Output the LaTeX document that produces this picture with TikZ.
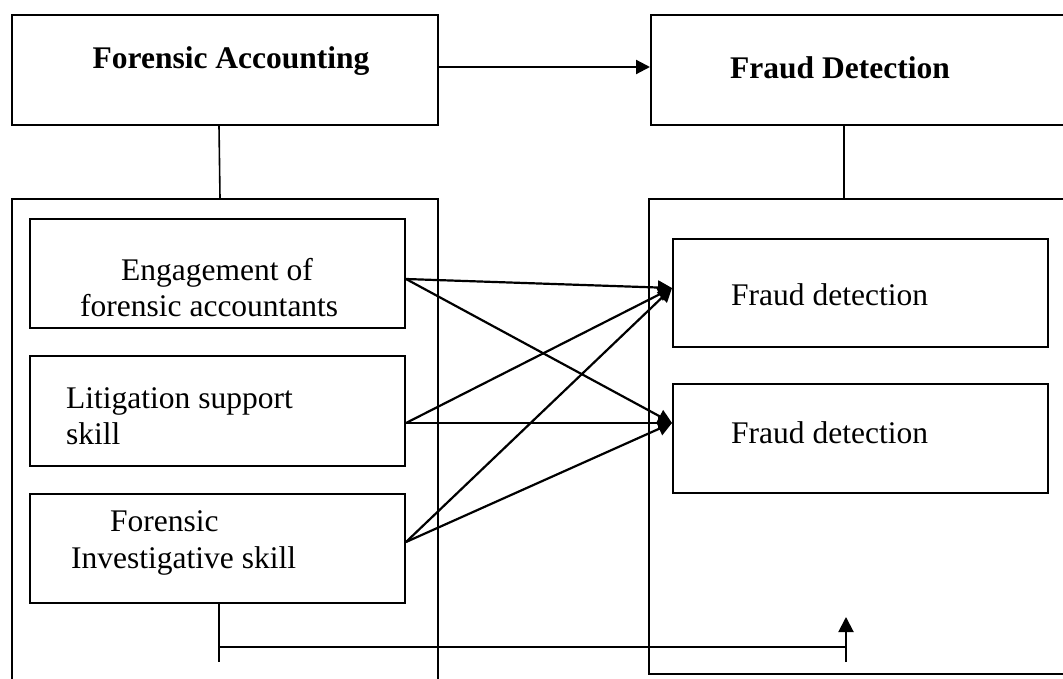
\documentclass[tikz,border=0pt]{standalone}
\usepackage{fontspec}
\setmainfont{Liberation Serif}
\usetikzlibrary{arrows.meta,calc}
\begin{document}
\begin{tikzpicture}[x=1pt,y=-1pt,
  box/.style={draw,line width=2pt,rectangle,inner sep=0pt,anchor=north west},
  txt/.style={anchor=base west,inner sep=0pt,font=\fontsize{31.5}{36}\selectfont},
  btxt/.style={anchor=base,inner sep=0pt,font=\fontsize{31.5}{36}\selectfont\bfseries},
  arr/.style={line width=2.2pt,-{Triangle[length=14pt,width=14pt]}},
  uparr/.style={line width=2pt,-{Triangle[length=15pt,width=15pt]}},
  thinline/.style={line width=1.6pt},
  midline/.style={line width=2pt}]
\clip (0,0) rectangle (1063,679);
\fill[white] (0,0) rectangle (1063,679);
% boxes
\node[box,minimum width=426pt,minimum height=110pt] (FA) at (11,14) {};
\node[box,minimum width=440pt,minimum height=110pt] (FD) at (650,14) {};
\node[box,minimum width=426pt,minimum height=520pt] (LB) at (11,198) {};
\node[box,minimum width=440pt,minimum height=475pt] (RB) at (648,198) {};
\node[box,minimum width=375pt,minimum height=109pt] (E) at (29,218) {};
\node[box,minimum width=375pt,minimum height=110pt] (L) at (29,355) {};
\node[box,minimum width=375pt,minimum height=109pt] (F) at (29,493) {};
\node[box,minimum width=375pt,minimum height=108pt] (D1) at (672,238) {};
\node[box,minimum width=375pt,minimum height=109pt] (D2) at (672,383) {};
% texts
\node[btxt] (tFA) at (231,69) {Forensic Accounting};
\node[btxt] (tFD) at (840,79) {Fraud Detection};
\node[txt] (tE1) at (121,280) {Engagement of};
\node[txt] (tE2) at (80,316) {forensic accountants};
\node[txt] (tL1) at (66,408) {Litigation support};
\node[txt] (tL2) at (66,444) {skill};
\node[txt] (tF1) at (110,531) {Forensic};
\node[txt] (tF2) at (71,568) {Investigative skill};
\node[txt] (tD1) at (731,305) {Fraud detection};
\node[txt] (tD2) at (731,443) {Fraud detection};
% top connectors
\draw[arr] ([yshift=3pt]FA.east) -- ([yshift=3pt]FD.west);
\draw[thinline] ([xshift=-6pt]FA.south) -- ([xshift=-5pt]LB.north);
\draw[thinline] ($(FD.south west)+(194,0)$) -- ($(RB.north west)+(196,0)$);
% arrow ends
\coordinate (sE) at ([yshift=-5.5pt]E.east);
\coordinate (sL) at ([yshift=-12pt]L.east);
\coordinate (sF) at ([yshift=6.5pt]F.east);
\coordinate (eD1) at ([yshift=5pt]D1.west);
\coordinate (eD2) at ([yshift=15.5pt]D2.west);
\draw[arr] (sE) -- (eD1);
\draw[arr] (sE) -- (eD2);
\draw[arr] (sL) -- (eD1);
\draw[arr] (sL) -- (eD2);
\draw[arr] (sF) -- (eD1);
\draw[arr] (sF) -- (eD2);
% bottom feedback
\coordinate (b0) at ([xshift=1.5pt]F.south);
\coordinate (b1) at ($(b0)+(0,58)$);
\coordinate (b2) at ($(b0)+(0,43)$);
\coordinate (b3) at ($(b2)+(627,0)$);
\coordinate (b4) at ($(b3)+(0,15)$);
\coordinate (b5) at ($(b3)+(0,-30)$);
\draw[midline] (b0) -- (b1);
\draw[midline] (b2) -- (b3);
\draw[uparr] (b4) -- (b5);
\end{tikzpicture}
\end{document}
